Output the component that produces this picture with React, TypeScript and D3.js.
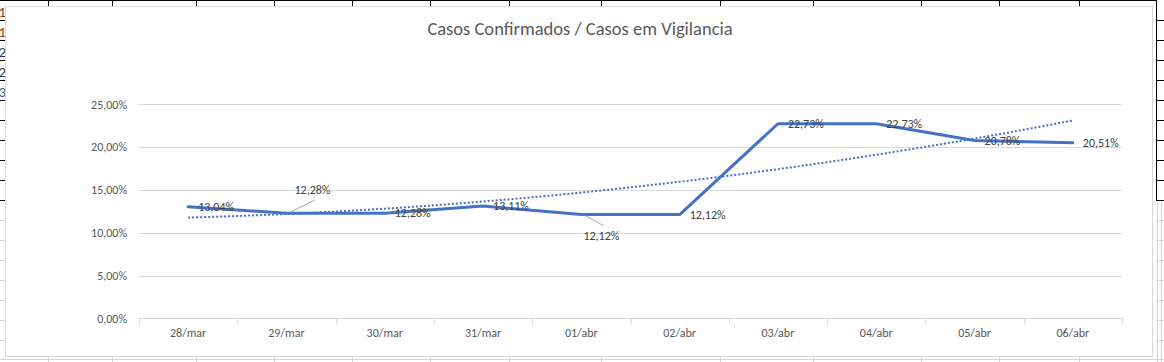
import { useEffect, useRef } from 'react';
import * as d3 from 'd3';

// chart data
const dias = ['28/mar', '29/mar', '30/mar', '31/mar', '01/abr', '02/abr', '03/abr', '04/abr', '05/abr', '06/abr'];
const percentuais = [13.04, 12.28, 12.28, 13.11, 12.12, 12.12, 22.73, 22.73, 20.78, 20.51];
const yTicks = [0, 5, 10, 15, 20, 25];
const titulo = 'Casos Confirmados / Casos em Vigilancia';

// spreadsheet cells around the chart
const colunas = [48, 112, 196, 274, 352, 430, 509, 601, 720, 813, 921, 999, 1079];
const celulasEsquerda = ['1', '1', '2', '2', '3'];
const coresEsquerda = ['#843c0c', '#843c0c', '#1f3864', '#1f3864', '#2f5597'];

// label placement relative to point; leader = label pulled away with a line
const labelPos: { dx: number; dy: number; leader?: boolean }[] = [
  { dx: 10, dy: 0 }, { dx: 26, dy: -23, leader: true }, { dx: 10, dy: 0 }, { dx: 10, dy: 0 },
  { dx: 20, dy: 21, leader: true }, { dx: 10, dy: 0 }, { dx: 10, dy: 0 }, { dx: 10, dy: 0 },
  { dx: 10, dy: 0 }, { dx: 10, dy: 0 },
];

const fmt = (v: number) => v.toFixed(2).replace('.', ',') + '%';

// least squares, 2nd order polynomial (Excel trendline)
function fitQuadratic(xs: number[], ys: number[]) {
  const n = xs.length;
  const s = [0, 0, 0, 0, 0];
  const t = [0, 0, 0];
  for (let i = 0; i < n; i++) {
    for (let k = 0; k < 5; k++) s[k] += Math.pow(xs[i], k);
    for (let k = 0; k < 3; k++) t[k] += ys[i] * Math.pow(xs[i], k);
  }
  const A = [
    [s[0], s[1], s[2], t[0]],
    [s[1], s[2], s[3], t[1]],
    [s[2], s[3], s[4], t[2]],
  ];
  for (let c = 0; c < 3; c++) {
    for (let r = c + 1; r < 3; r++) {
      const f = A[r][c] / A[c][c];
      for (let k = c; k < 4; k++) A[r][k] -= f * A[c][k];
    }
  }
  const coef = [0, 0, 0];
  for (let r = 2; r >= 0; r--) {
    let v = A[r][3];
    for (let k = r + 1; k < 3; k++) v -= A[r][k] * coef[k];
    coef[r] = v / A[r][r];
  }
  return (x: number) => coef[0] + coef[1] * x + coef[2] * x * x;
}

export default function App() {
  const svgRef = useRef<SVGSVGElement>(null);

  useEffect(() => {
    const width = 1164;
    const height = 362;
    const svg = d3.select(svgRef.current);
    svg.selectAll('*').remove();
    svg.attr('width', width).attr('height', height);

    const font = 'Carlito, Calibri, Lato, sans-serif';

    // sheet background
    svg.append('rect').attr('width', width).attr('height', height).attr('fill', '#fff');
    const sheet = svg.append('g').attr('shape-rendering', 'crispEdges');
    sheet.append('line').attr('x1', 0).attr('x2', 1157).attr('y1', 0.5).attr('y2', 0.5).attr('stroke', '#000');
    sheet.selectAll('.ct').data(colunas).enter().append('line')
      .attr('x1', d => d + 0.5).attr('x2', d => d + 0.5).attr('y1', 0).attr('y2', 7).attr('stroke', '#000');
    sheet.selectAll('.cb').data(colunas).enter().append('line')
      .attr('x1', d => d + 0.5).attr('x2', d => d + 0.5).attr('y1', 357).attr('y2', 362).attr('stroke', '#d4d4d4');
    sheet.append('line').attr('x1', 0).attr('x2', width).attr('y1', 359.5).attr('y2', 359.5).attr('stroke', '#d4d4d4');
    const rows = d3.range(1, 18).map(i => i * 20);
    sheet.selectAll('.rl').data(rows).enter().append('line')
      .attr('x1', 0).attr('x2', 6).attr('y1', d => d + 0.5).attr('y2', d => d + 0.5)
      .attr('stroke', d => (d <= 200 ? '#000' : '#d4d4d4'));
    sheet.selectAll('.rr').data(rows).enter().append('line')
      .attr('x1', 1156).attr('x2', width).attr('y1', d => d + 0.5).attr('y2', d => d + 0.5)
      .attr('stroke', d => (d <= 200 ? '#000' : '#d4d4d4'));
    sheet.append('line').attr('x1', 1156.5).attr('x2', 1156.5).attr('y1', 0).attr('y2', 201).attr('stroke', '#000');
    sheet.append('line').attr('x1', 1157.5).attr('x2', 1157.5).attr('y1', 201).attr('y2', height).attr('stroke', '#d4d4d4');
    sheet.append('line').attr('x1', 1161.5).attr('x2', 1161.5).attr('y1', 201).attr('y2', height).attr('stroke', '#d4d4d4');
    svg.selectAll('.num').data(celulasEsquerda).enter().append('text')
      .attr('x', 6).attr('y', (d, i) => 17 + i * 20)
      .attr('text-anchor', 'end')
      .attr('font-family', font).attr('font-size', 15)
      .attr('fill', (d, i) => coresEsquerda[i])
      .text(d => d);

    // chart area
    svg.append('rect')
      .attr('x', 5.5).attr('y', 6.5).attr('width', 1147).attr('height', 350)
      .attr('fill', '#fff').attr('stroke', '#d9d9d9');

    svg.append('text')
      .attr('x', 580).attr('y', 35)
      .attr('text-anchor', 'middle')
      .attr('font-family', font).attr('font-size', 18.5)
      .attr('fill', '#595959')
      .text(titulo);

    const x = d3.scaleBand().domain(dias).range([139, 1122]);
    const y = d3.scaleLinear().domain([0, 25]).range([318.3, 104.3]);
    const cx = (d: string) => (x(d) as number) + x.bandwidth() / 2;

    // gridlines + y labels
    const grid = svg.append('g');
    grid.selectAll('line').data(yTicks).enter().append('line')
      .attr('x1', 139).attr('x2', 1122)
      .attr('y1', d => Math.round(y(d)) + 0.5).attr('y2', d => Math.round(y(d)) + 0.5)
      .attr('stroke', '#d9d9d9');
    grid.selectAll('text').data(yTicks).enter().append('text')
      .attr('x', 127).attr('y', d => y(d)).attr('dy', '0.35em')
      .attr('text-anchor', 'end')
      .attr('font-family', font).attr('font-size', 12)
      .attr('fill', '#595959')
      .text(d => fmt(d));

    // x axis ticks + labels
    const bounds = dias.map(d => x(d) as number).concat([1122]);
    svg.append('g').selectAll('line').data(bounds).enter().append('line')
      .attr('x1', d => Math.round(d) + 0.5).attr('x2', d => Math.round(d) + 0.5)
      .attr('y1', 318).attr('y2', 324)
      .attr('stroke', '#d9d9d9');
    svg.append('g').selectAll('text').data(dias).enter().append('text')
      .attr('x', d => cx(d)).attr('y', 333).attr('dy', '0.35em')
      .attr('text-anchor', 'middle')
      .attr('font-family', font).attr('font-size', 12)
      .attr('fill', '#595959')
      .text(d => d);

    // trendline (polynomial, order 2)
    const idx = dias.map((d, i) => i + 1);
    const trend = fitQuadratic(idx, percentuais);
    const xt = d3.scaleLinear().domain([1, dias.length]).range([cx(dias[0]), cx(dias[dias.length - 1])]);
    const ts = d3.range(1, dias.length + 0.001, 0.05);
    svg.append('path')
      .attr('d', d3.line<number>().x(t => xt(t)).y(t => y(trend(t)))(ts) as string)
      .attr('fill', 'none').attr('stroke', '#4472c4')
      .attr('stroke-width', 2).attr('stroke-dasharray', '2 2');

    // series line
    const serie = dias.map((d, i) => [cx(d), y(percentuais[i])] as [number, number]);
    svg.append('path')
      .attr('d', d3.line()(serie) as string)
      .attr('fill', 'none').attr('stroke', '#4472c4')
      .attr('stroke-width', 3).attr('stroke-linejoin', 'round').attr('stroke-linecap', 'round');

    // data labels
    const lbl = svg.append('g');
    serie.forEach((p, i) => {
      const pos = labelPos[i];
      if (pos.leader) {
        lbl.append('line')
          .attr('x1', p[0] + 4).attr('y1', p[1] + (pos.dy < 0 ? -1 : 1))
          .attr('x2', p[0] + pos.dx + 2).attr('y2', p[1] + pos.dy + (pos.dy < 0 ? 10 : -10))
          .attr('stroke', '#a6a6a6').attr('stroke-width', 1);
      }
      lbl.append('text')
        .attr('x', p[0] + pos.dx)
        .attr('y', p[1] + pos.dy).attr('dy', '0.35em')
        .attr('text-anchor', pos.leader ? 'middle' : 'start')
        .attr('font-family', font).attr('font-size', 12)
        .attr('fill', '#404040')
        .text(fmt(percentuais[i]));
    });
  }, []);

  return (
    <div style={{ position: 'absolute', left: 0, top: 0 }}>
      <svg ref={svgRef} style={{ display: 'block' }}></svg>
    </div>
  );
}
